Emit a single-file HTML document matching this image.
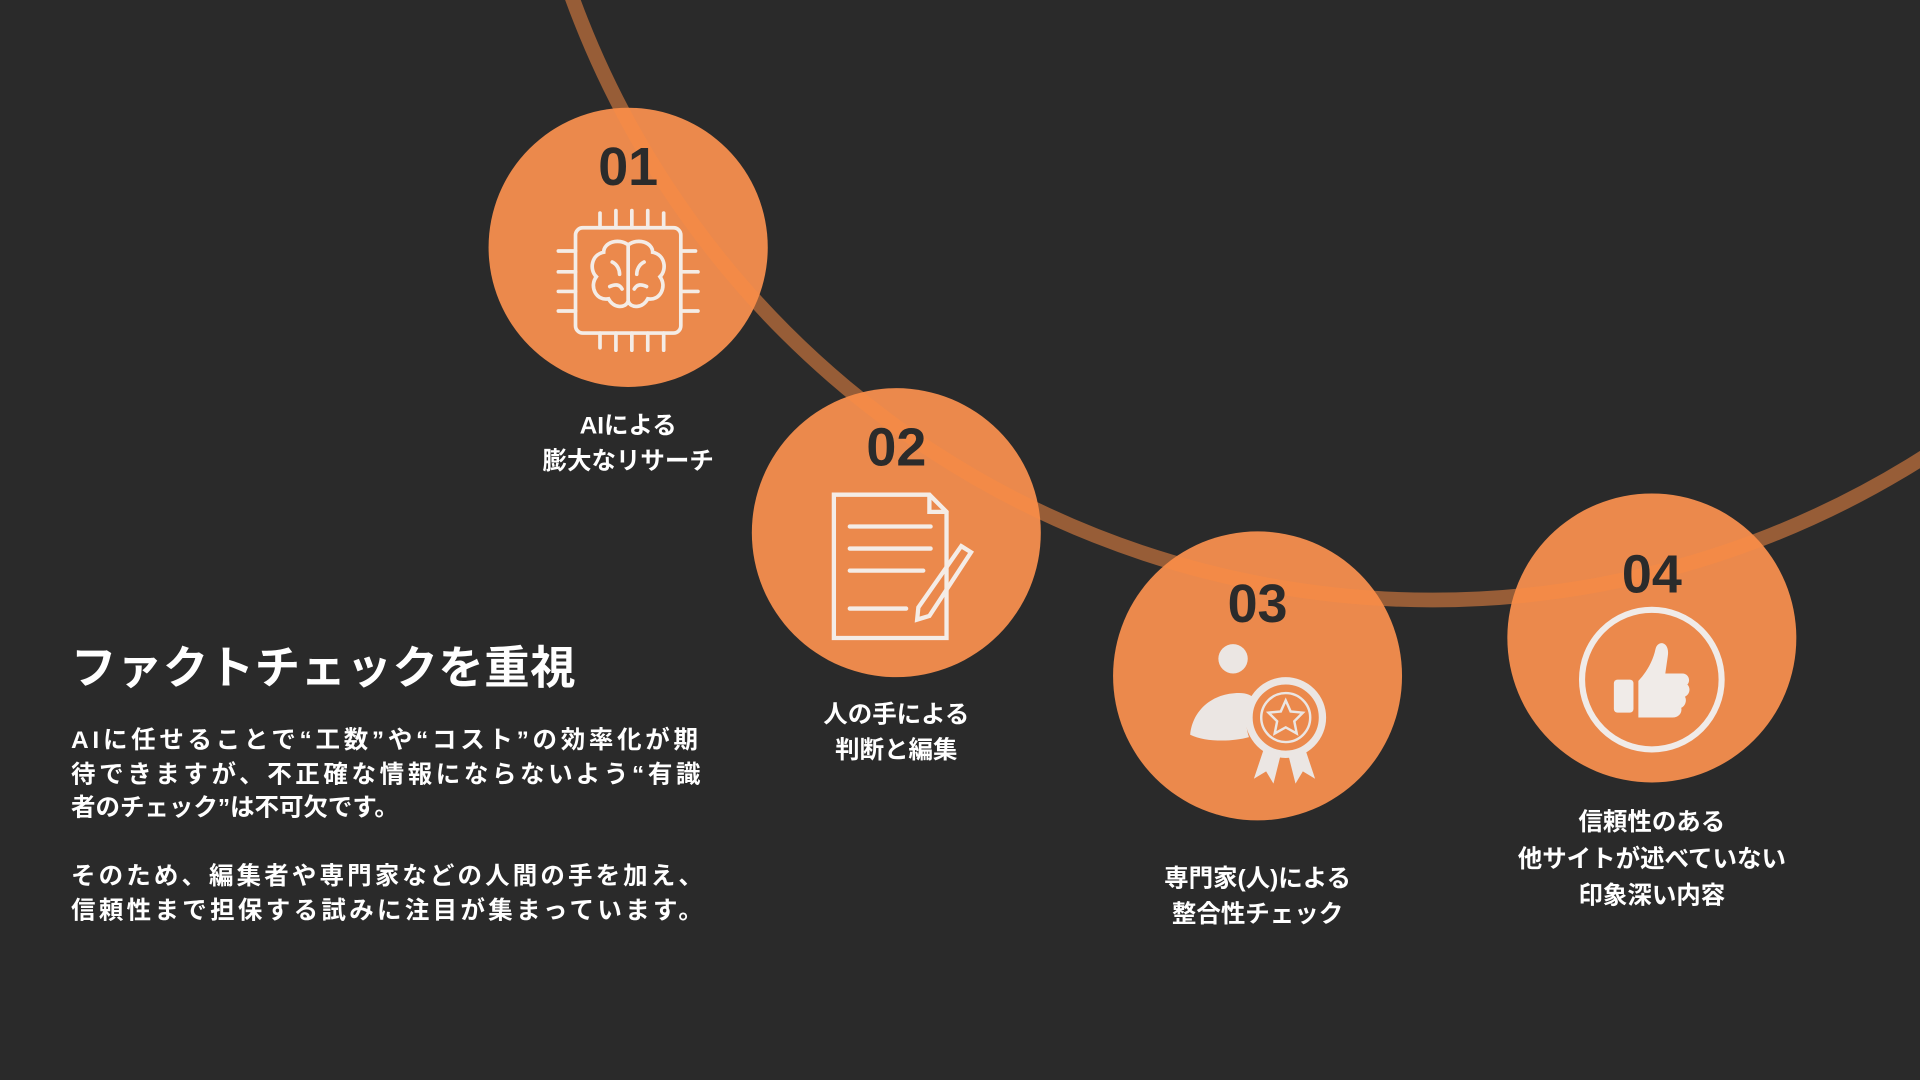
<!DOCTYPE html>
<html><head><meta charset="utf-8"><style>
html,body{margin:0;padding:0;background:#2a2a2a;}
svg{display:block}
text{font-family:"Liberation Sans","Noto Sans CJK JP",sans-serif;font-weight:bold;}
</style></head><body>
<svg width="1920" height="1080" viewBox="0 0 1568 882" xmlns="http://www.w3.org/2000/svg">
<rect width="1568" height="882" fill="#2a2a2a"/>
<g fill="#eb894c">
<circle cx="513" cy="202" r="114"/>
<circle cx="732" cy="435" r="118"/>
<circle cx="1027" cy="552" r="118"/>
<circle cx="1349" cy="521" r="118"/>
</g>
<circle cx="1170" cy="-258" r="748" fill="none" stroke="#fb8c44" stroke-opacity="0.52" stroke-width="12"/>
<g fill="#2b2b2b" font-size="44" text-anchor="middle">
<text x="513" y="151">01</text>
<text x="732" y="380">02</text>
<text x="1027" y="508">03</text>
<text x="1349" y="484">04</text>
</g>
<g stroke="#f4ece6" stroke-width="3" fill="none" stroke-linecap="round">
<rect x="470" y="186" width="86" height="86" rx="6"/>
<path d="M490 186v-12M503 186v-14M516 186v-14M529 186v-14M542 186v-12M490 272v12M503 272v14M516 272v14M529 272v14M542 272v14M470 205h-14M470 222h-14M470 238h-14M470 254h-14M556 205h12M556 222h14M556 238h14M556 254h14"/>
<path d="M513 200c-8-6-20-2-20 6c-10 2-12 14-6 20c-6 8 0 20 10 18c4 8 14 8 16 2zM513 200c8-6 20-2 20 6c10 2 12 14 6 20c6 8 0 20-10 18c-4 8-14 8-16 2zM513 200v46M500 214c4 2 6 6 6 10M526 214c-4 2-6 6-6 10M498 234c4-2 8-2 10 2M528 234c-4-2-8-2-10 2"/>
</g>
<g stroke="#f4ece6" stroke-width="3.5" fill="none" stroke-linecap="round">
<path d="M681 404h78l14 14v103h-92z"/>
<path d="M759 404v14h14"/>
<path d="M694 430h66M694 448h66M694 466h60M694 497h46"/>
<path d="M785 446l8 5-34 52-10 3 1-10z"/>
</g>
<g fill="#ebe6e3">
<circle cx="1007" cy="538" r="12"/>
<path d="M972 600c2-20 18-34 40-34c6 0 10 2 12 4c-6 8-8 20-4 32c-14 4-36 4-48-2z"/>
<path d="M1032 612l-8 24 10-6 6 10 6-24zM1066 612l8 24-10-6-6 10-6-24z"/>
</g>
<g fill="none" stroke="#ebe6e3">
<circle cx="1050" cy="586" r="30" stroke-width="6"/>
<circle cx="1050" cy="586" r="20" stroke-width="2"/>
<path d="M1050 572l4 9 10 1-7 7 2 10-9-5-9 5 2-10-7-7 10-1z" stroke-width="2"/>
</g>
<circle cx="1349" cy="555" r="57" fill="none" stroke="#f0ebe8" stroke-width="5"/>
<g fill="#f0ebe8">
<rect x="1318" y="555" width="16" height="27" rx="3"/>
<path d="M1338 556c6-6 12-16 14-26c2-8 12-6 10 6l-2 14h14c5 0 7 6 4 9c3 3 2 8-2 10c2 3 0 8-3 9c1 4-2 8-7 8h-28z"/>
</g>
<g fill="#ffffff" font-size="20" text-anchor="middle">
<text x="513" y="354">AIによる</text>
<text x="513" y="383">膨大なリサーチ</text>
<text x="732" y="590">人の手による</text>
<text x="732" y="619">判断と編集</text>
<text x="1027" y="724">専門家(人)による</text>
<text x="1027" y="753">整合性チェック</text>
<text x="1349" y="678">信頼性のある</text>
<text x="1349" y="708">他サイトが述べていない</text>
<text x="1349" y="738">印象深い内容</text>
</g>
<g fill="#ffffff">
<text x="58" y="558" font-size="37" textLength="412">ファクトチェックを重視</text>
<g font-size="20">
<text x="58" y="611" textLength="512">AIに任せることで“工数”や“コスト”の効率化が期</text>
<text x="58" y="639" textLength="514">待できますが、不正確な情報にならないよう“有識</text>
<text x="58" y="666">者のチェック”は不可欠です。</text>
<text x="58" y="722" textLength="516">そのため、編集者や専門家などの人間の手を加え、</text>
<text x="58" y="750" textLength="516">信頼性まで担保する試みに注目が集まっています。</text>
</g>
</g>
</svg>
</body></html>
